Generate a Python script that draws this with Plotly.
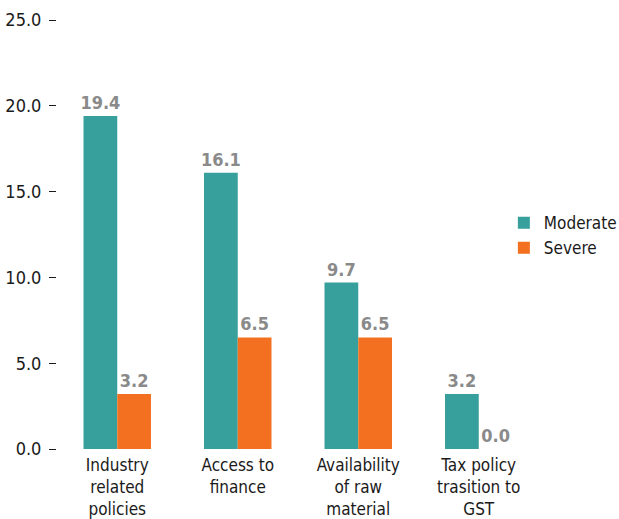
import plotly.graph_objects as go

categories = ["Industry<br>related<br>policies", "Access to<br>finance", "Availability<br>of raw<br>material", "Tax policy<br>trasition to<br>GST"]
moderate = [19.4, 16.1, 9.7, 3.2]
severe = [3.2, 6.5, 6.5, 0.0]
y_ticks = [0, 5, 10, 15, 20, 25]

FONT = "DejaVu Sans Condensed, Liberation Sans Narrow, Roboto, sans-serif"
TEAL = "#379f9c"
ORANGE = "#f37021"
LABEL = "#8a8a8a"

fig = go.Figure()
for name, vals, col in [("Moderate", moderate, TEAL), ("Severe", severe, ORANGE)]:
    fig.add_trace(go.Bar(
        x=categories, y=vals, name=name, marker_color=col,
        marker_line_width=0,
        text=[f"{v:.1f}" for v in vals], textposition="outside",
        constraintext="none",
        textfont=dict(family=FONT, size=18, color=LABEL, weight="bold"),
        cliponaxis=False,
    ))

fig.update_layout(
    width=619, height=519,
    margin=dict(l=57, r=80, t=20, b=70, autoexpand=False),
    paper_bgcolor="white", plot_bgcolor="white",
    barmode="group", bargap=0.44, bargroupgap=0,
    font=dict(family=FONT, size=17, color="#1a1a1a"),
    showlegend=True,
    legend=dict(xref="container", yref="container",
                x=0.814, xanchor="left", y=0.546, yanchor="middle",
                font=dict(family=FONT, size=17, color="#1a1a1a"),
                itemwidth=30, bgcolor="rgba(0,0,0,0)"),
)
fig.update_xaxes(showline=False, showgrid=False, ticks="", tickfont=dict(size=17),
                 range=[-0.5, 3.5], automargin=False, ticklabelstandoff=4)
fig.update_yaxes(range=[0, 25], tickvals=y_ticks, ticktext=[f"{v:.1f}" for v in y_ticks],
                 showgrid=False, zeroline=False, showline=False,
                 ticks="outside", ticklen=7, tickwidth=1, tickcolor="#1a1a1a",
                 ticklabelstandoff=4, tickfont=dict(size=18), automargin=False)

fig.write_html("out.html", config={"displayModeBar": False},
               post_script="document.body.style.margin='0';document.body.style.overflow='hidden';")
